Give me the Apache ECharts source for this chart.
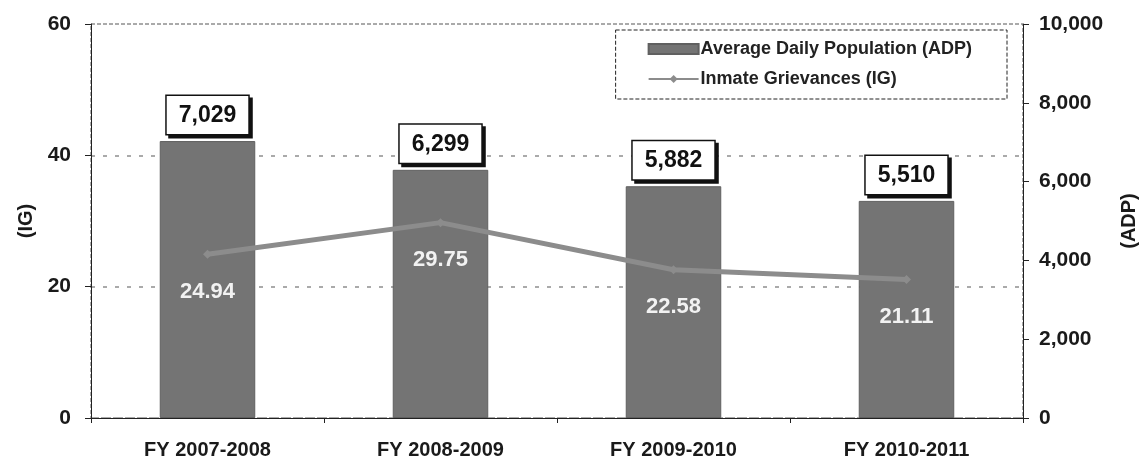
<!DOCTYPE html>
<html>
<head>
<meta charset="utf-8">
<script src="https://cdn.jsdelivr.net/npm/echarts@6/dist/echarts.min.js"></script>
<style>
  html, body { margin: 0; padding: 0; background: #fff; }
  #chart { width: 1139px; height: 462px; }
</style>
</head>
<body>
<div id="chart"></div>
<script>
const categories = ['FY 2007-2008', 'FY 2008-2009', 'FY 2009-2010', 'FY 2010-2011']
const adpValues = [7029, 6299, 5882, 5510]
const igValues = [24.94, 29.75, 22.58, 21.11]

const chart = echarts.init(document.getElementById('chart'))

const font = '"Liberation Sans", Arial, sans-serif'

const option = {
  animation: false,
  backgroundColor: '#fff',
  textStyle: { fontFamily: font },
  legend: {
    right: 132,
    top: 30,
    orient: 'vertical',
    itemGap: 12,
    itemWidth: 50,
    itemHeight: 10,
    padding: [10, 35, 11, 32],
    borderColor: '#222',
    borderWidth: 1,
    borderType: 'dashed',
    backgroundColor: '#fff',
    textStyle: { fontSize: 18, fontWeight: 'bold', color: '#222', fontFamily: font, padding: [0, 0, 0, -3] },
    data: [
      { name: 'Average Daily Population (ADP)', icon: 'rect' },
      { name: 'Inmate Grievances (IG)' }
    ]
  },
  grid: {
    left: 91, right: 116, top: 24, bottom: 44,
    outerBoundsMode: 'none',
    show: true,
    borderColor: '#555',
    borderWidth: 1,
    borderType: 'dashed'
  },
  xAxis: {
    type: 'category',
    data: categories,
    axisLine: { lineStyle: { color: '#222', width: 1 } },
    axisTick: { show: true, length: 5, lineStyle: { color: '#222' } },
    axisLabel: { fontSize: 20, fontWeight: 'bold', color: '#1a1a1a', margin: 22 }
  },
  yAxis: [
    {
      type: 'value',
      min: 0, max: 60, interval: 20,
      name: '(IG)',
      nameLocation: 'middle',
      nameGap: 55,
      nameRotate: 90,
      nameTextStyle: { fontSize: 20, fontWeight: 'bold', color: '#1a1a1a' },
      axisLine: { show: true, lineStyle: { color: '#222' } },
      axisTick: { show: true, length: 6, lineStyle: { color: '#222' } },
      axisLabel: { fontSize: 21, fontWeight: 'bold', color: '#1a1a1a', margin: 20 },
      splitLine: { show: true, lineStyle: { color: '#aaa', type: [4, 8], width: 2 } }
    },
    {
      type: 'value',
      min: 0, max: 10000, interval: 2000,
      name: '(ADP)',
      nameLocation: 'middle',
      nameGap: 96,
      nameRotate: 90,
      nameTextStyle: { fontSize: 20, fontWeight: 'bold', color: '#1a1a1a' },
      axisLine: { show: true, lineStyle: { color: '#222' } },
      axisTick: { show: true, length: 6, lineStyle: { color: '#222' } },
      axisLabel: {
        fontSize: 21, fontWeight: 'bold', color: '#1a1a1a', margin: 16,
        formatter: v => v.toLocaleString('en-US')
      },
      splitLine: { show: false }
    }
  ],
  series: [
    {
      type: 'bar',
      name: 'Average Daily Population (ADP)',
      yAxisIndex: 1,
      data: adpValues,
      barWidth: '41%',
      itemStyle: { color: '#747474', borderColor: '#606060', borderWidth: 1 },
      label: {
        show: true,
        position: 'top',
        distance: 7,
        formatter: p => p.value.toLocaleString('en-US'),
        fontSize: 23,
        fontWeight: 'bold',
        color: '#111',
        backgroundColor: '#fff',
        borderColor: '#111',
        borderWidth: 1.5,
        padding: [8, 12, 7, 12],
        shadowColor: '#111',
        shadowOffsetX: 3,
        shadowOffsetY: 3,
        shadowBlur: 0
      },
      z: 2
    },
    {
      type: 'line',
      name: 'Inmate Grievances (IG)',
      yAxisIndex: 0,
      data: igValues,
      lineStyle: { color: '#8c8c8c', width: 5 },
      itemStyle: { color: '#8c8c8c' },
      symbol: 'diamond',
      symbolSize: 9,
      showSymbol: true,
      label: {
        show: true,
        position: 'bottom',
        distance: 22,
        fontSize: 22,
        fontWeight: 'bold',
        color: '#f2f2f2',
        formatter: p => p.value.toFixed(2)
      },
      z: 3
    }
  ]
}

chart.setOption(option)
</script>
</body>
</html>
